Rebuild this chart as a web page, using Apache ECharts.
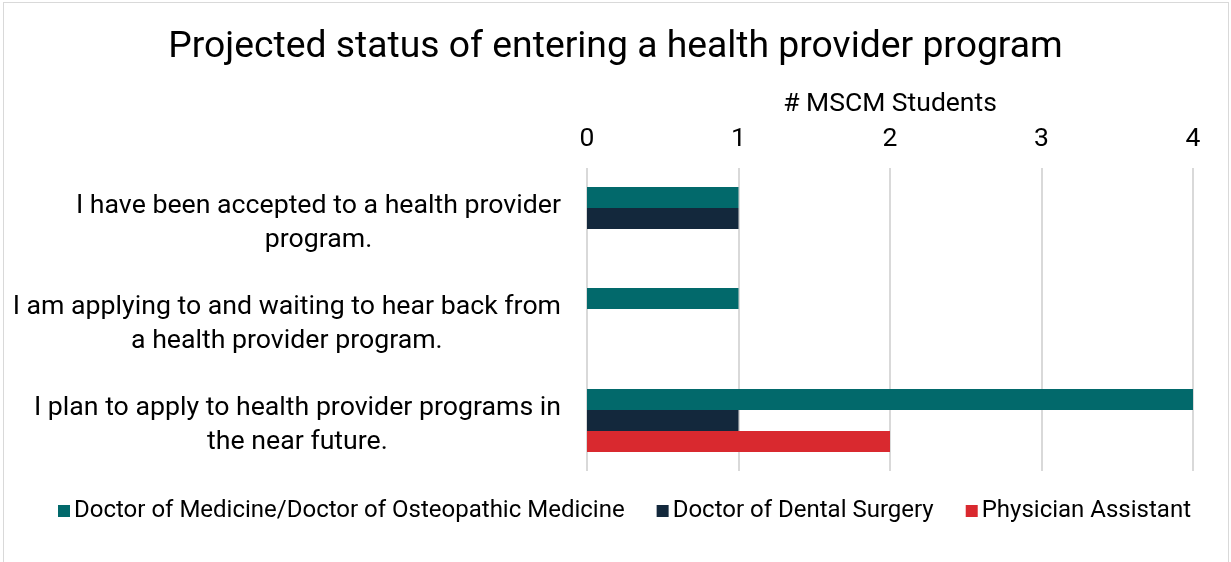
<!DOCTYPE html>
<html>
<head>
<meta charset="utf-8">
<script src="https://cdn.jsdelivr.net/npm/echarts@6/dist/echarts.min.js"></script>
<style>
html,body{margin:0;padding:0;background:#fff;}
#frame{position:absolute;left:3px;top:2px;width:1226px;height:620px;border:1px solid #d9d9d9;box-sizing:border-box;}
#chart{position:absolute;left:0;top:0;width:1231px;height:562px;}
</style>
</head>
<body>
<div id="frame"></div>
<div id="chart"></div>
<script>
const categories = [
  "I have been accepted to a health provider\nprogram.",
  "I am applying to and waiting to hear back from\na health provider program.",
  "I plan to apply to health provider programs in\nthe near future."
];
const seriesNames = ["Doctor of Medicine/Doctor of Osteopathic Medicine", "Doctor of Dental Surgery", "Physician Assistant"];
const mdDo = [1, 1, 4];
const dds = [1, 0, 1];
const pa = [0, 0, 2];
const xTicks = [0, 1, 2, 3, 4];
const colors = ["#02696b", "#13283c", "#d9292f"];

const font = "Roboto";
const chart = echarts.init(document.getElementById('chart'));
const seriesData = [mdDo, dds, pa];
chart.setOption({
  animation: false,
  color: colors,
  title: {
    text: "Projected status of entering a health provider program",
    left: 'center', top: 24,
    textStyle: {fontFamily: font, fontSize: 37.3, fontWeight: 'normal', color: '#000'}
  },
  legend: {
    bottom: 34, left: 53,
    itemWidth: 12, itemHeight: 12, itemGap: 32,
    icon: 'rect',
    textStyle: {fontFamily: font, fontSize: 24, color: '#000', padding: [0, 0, 0, -1]},
    data: seriesNames
  },
  grid: {left: 587, right: 38, top: 168, bottom: 91, containLabel: false},
  xAxis: {
    type: 'value', position: 'top', min: 0, max: 4, interval: 1,
    name: "# MSCM Students", nameLocation: 'middle', nameGap: 50,
    nameTextStyle: {fontFamily: font, fontSize: 26.5, color: '#000'},
    axisLabel: {fontFamily: font, fontSize: 26.5, color: '#000', margin: 15,
      formatter: v => String(xTicks[v] !== undefined ? xTicks[v] : v)},
    axisLine: {show: false}, axisTick: {show: false},
    splitLine: {show: true, lineStyle: {color: '#d9d9d9', width: 2}}
  },
  yAxis: {
    type: 'category', inverse: true, data: categories,
    axisLine: {show: false}, axisTick: {show: false},
    axisLabel: {
      margin: 26, align: 'right', padding: [9, 0, 0, 0],
      formatter: v => v.split('\n').map(l => '{c|' + l + '}').join('\n'),
      rich: {c: {align: 'center', fontFamily: font, fontSize: 26.7, color: '#000', lineHeight: 34}}
    }
  },
  series: seriesNames.map((n, i) => ({
    name: n, type: 'bar', data: seriesData[i],
    barGap: '0%', barCategoryGap: '37.5%'
  }))
});
</script>
</body>
</html>
